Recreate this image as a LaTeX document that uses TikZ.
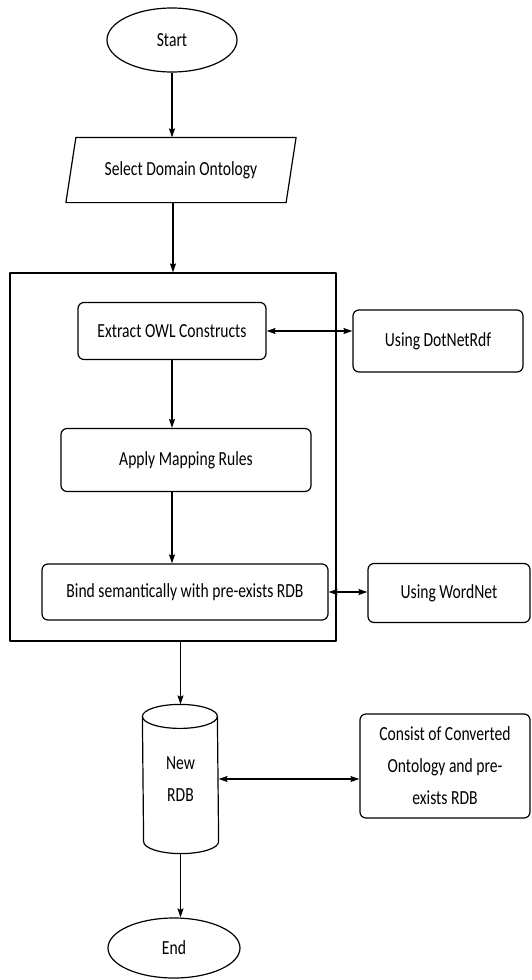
\documentclass[tikz,border=0pt]{standalone}
\usepackage{fontspec}
\setmainfont[FakeStretch=0.78]{Carlito}
\usetikzlibrary{shapes.geometric,arrows.meta}
\newcommand{\chartfont}{\fontsize{20}{32}\selectfont}
\begin{document}
\begin{tikzpicture}[x=1pt, y=1pt, >={Stealth[length=9pt,width=6pt,inset=1.5pt]}, line width=1.2pt, line join=round,
	term/.style={draw, ellipse, inner sep=0pt, font=\chartfont},
	proc/.style={draw, rounded corners=6pt, align=center, inner sep=0pt, font=\chartfont},
	blank/.style={inner sep=0pt, align=center, font=\chartfont}]
	\useasboundingbox (0,0) rectangle (532,-980);
	\node[term, minimum width=130pt, minimum height=64pt] (start) at (172,-40) {Start};
	\node[blank, minimum width=219pt, minimum height=64pt] (select) at (181,-170) {Select Domain Ontology};
	\draw ([xshift=5pt]select.north west) -- ([xshift=5pt]select.north east) -- ([xshift=-5pt]select.south east) -- ([xshift=-5pt]select.south west) -- cycle;
	\node[draw, minimum width=326pt, minimum height=368pt, inner sep=0pt] (frame) at (173,-457) {};
	\node[proc, minimum width=188pt, minimum height=57pt] (extract) at (172,-331) {Extract OWL Constructs};
	\node[proc, minimum width=170pt, minimum height=62pt] (dotnet) at (438,-341) {Using DotNetRdf};
	\node[proc, minimum width=250pt, minimum height=63pt] (apply) at (186,-460) {Apply Mapping Rules};
	\node[proc, minimum width=286pt, minimum height=56pt] (bind) at (185,-592) {Bind semantically with pre-exists RDB};
	\node[proc, minimum width=162pt, minimum height=59pt] (wordnet) at (449,-593) {Using WordNet};
	% database drum
	\node[blank, minimum width=75pt, minimum height=148pt] (db) at (180.5,-779) {New\\RDB};
	\draw ([yshift=-12pt]db.north west) arc (180:0:37.5 and 12) -- ([yshift=12pt]db.south east) arc (0:-180:37.5 and 12) -- cycle;
	\draw ([yshift=-12pt]db.north west) arc (180:360:37.5 and 12);
	\node[proc, minimum width=170pt, minimum height=104pt] (consist) at (445,-766) {Consist of Converted\\Ontology and pre-\\exists RDB};
	\node[term, minimum width=132pt, minimum height=60pt] (end) at (174,-948) {End};
	% connectors
	\draw[->] (start.south) -- (start.south |- select.north);
	\draw[->] (select.south -| frame.north) -- (frame.north);
	\draw[<->] (extract.east) -- (extract.east -| dotnet.west);
	\draw[->] (extract.south) -- (extract.south |- apply.north);
	\draw[->] (apply.south -| extract.south) -- (bind.north -| extract.south);
	\draw[<->] (bind.east) -- (bind.east -| wordnet.west);
	\draw[->] (frame.south -| db.north) -- (db.north);
	\draw[<->] (db.east) -- (db.east -| consist.west);
	\draw[->] (db.south) -- (db.south |- end.north);
\end{tikzpicture}
\end{document}
